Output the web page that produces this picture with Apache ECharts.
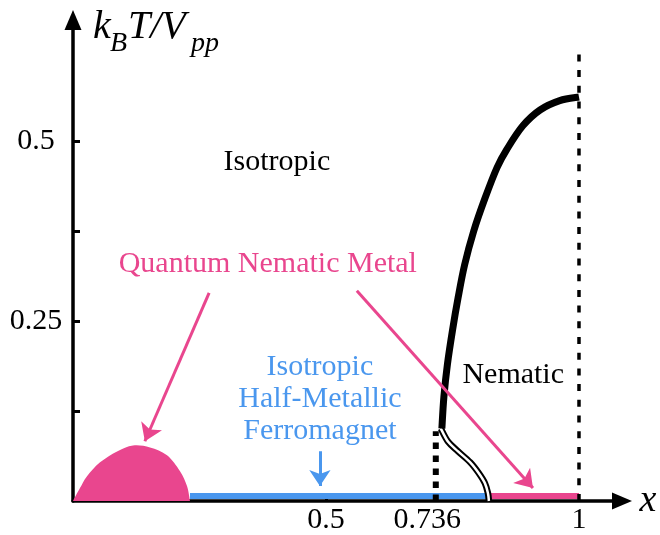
<!DOCTYPE html>
<html>
<head>
<meta charset="utf-8">
<script src="https://cdn.jsdelivr.net/npm/echarts@6/dist/echarts.min.js"></script>
<style>html,body{margin:0;padding:0;background:#fff}#c{width:660px;height:535px}</style>
</head>
<body>
<div id="c"></div>
<script>
// ---- data (data units: x = doping, y = kBT/Vpp) ----
const qnmDome = [[0,0],[0.0138,0.0179],[0.0277,0.0344],[0.0534,0.0537],[0.0870,0.0689],[0.1186,0.0771],[0.1522,0.0744],[0.1858,0.0634],[0.2115,0.0413],[0.2253,0.0207],[0.2312,0]];
const nematicBoundary = [[0.729,0.1006],[0.733,0.1446],[0.740,0.190],[0.750,0.237],[0.761,0.282],[0.774,0.328],[0.792,0.375],[0.814,0.420],[0.838,0.463],[0.858,0.489],[0.889,0.521],[0.923,0.543],[0.962,0.556],[1.0,0.561]];
const doubleBoundary = [[0.727,0.1006],[0.741,0.0826],[0.761,0.0689],[0.785,0.0537],[0.802,0.0386],[0.814,0.0248],[0.820,0.0110],[0.822,0]];
const dottedBoundary = [[0.717,0],[0.717,0.097]];
const dashedX1 = [[1,0],[1,0.624]];
const hmfBand = [[0.2312,0.007],[0.824,0.007]];
const qnmBand = [[0.824,0.007],[1.0,0.007]];
const pinkArrows = [[[0.269,0.289],[0.142,0.083]],[[0.561,0.292],[0.909,0.018]]];
const blueArrows = [[[0.488,0.069],[0.488,0.0207]]];
const xTickValues = [0.5];
const xLabelValues = [0.5, 0.7, 1];
const xLabelTexts = ['0.5', '0.736', '1'];
const yTickValues = [0.125, 0.25, 0.375, 0.5];
const yLabelValues = [0.25, 0.5];
const yLabelTexts = ['0.25', '0.5'];
const blackTexts = [['Isotropic', 0.403, 0.471], ['Nematic', 0.870, 0.175]];
const pinkTexts = [['Quantum Nematic Metal', 0.385, 0.329]];
const blueTexts = [['Isotropic\nHalf-Metallic\nFerromagnet', 0.488, 0.142]];

const PINK = '#E9468E', BLUE = '#4A97EE';
const SERIF = '"Liberation Serif", "DejaVu Serif", serif';

// smooth path (Catmull-Rom as cubic Beziers) through pixel points obtained from the axes
function splinePath(pts, close) {
  let d = 'M' + pts[0][0] + ' ' + pts[0][1];
  for (let i = 0; i < pts.length - 1; i++) {
    const p0 = pts[Math.max(i - 1, 0)], p1 = pts[i], p2 = pts[i + 1], p3 = pts[Math.min(i + 2, pts.length - 1)];
    const c1 = [p1[0] + (p2[0] - p0[0]) / 6, p1[1] + (p2[1] - p0[1]) / 6];
    const c2 = [p2[0] - (p3[0] - p1[0]) / 6, p2[1] - (p3[1] - p1[1]) / 6];
    d += ' C' + c1[0] + ' ' + c1[1] + ' ' + c2[0] + ' ' + c2[1] + ' ' + p2[0] + ' ' + p2[1];
  }
  if (close) d += ' Z';
  return d;
}
function curveSeries(points, style, z, close) {
  return {
    type: 'custom', coordinateSystem: 'cartesian2d', z: z, silent: true,
    data: [points[Math.floor(points.length / 2)]],
    renderItem: (params, api) => ({
      type: 'path',
      shape: {pathData: splinePath(points.map(p => api.coord(p)), close)},
      style: style
    })
  };
}
function textSeries(items, color) {
  return {
    type: 'scatter', symbolSize: 1, itemStyle: {color: 'transparent', opacity: 1}, z: 10, silent: true,
    data: items.map(t => ({value: [t[1], t[2]], name: t[0]})),
    label: {show: true, position: 'inside', formatter: p => p.name, color: color, opacity: 1,
            textBorderWidth: 0,
            fontFamily: SERIF, fontSize: 30, lineHeight: 32, align: 'center', verticalAlign: 'middle'}
  };
}
function lineSeries(data, style, z) {
  return {type: 'line', data: data, symbol: 'none', lineStyle: style, z: z, silent: true};
}

const chart = echarts.init(document.getElementById('c'), null, {renderer: 'canvas'});
chart.setOption({
  animation: false,
  grid: {left: 73, right: 38, top: 20, bottom: 30},
  xAxis: {
    type: 'value', min: 0, max: 1.085, splitLine: {show: false},
    axisLine: {lineStyle: {color: '#000', width: 3.5}, symbol: ['none', 'triangle'], symbolSize: [17, 20]},
    axisTick: {inside: true, length: 8, lineStyle: {width: 3, color: '#000'}, customValues: xTickValues},
    axisLabel: {customValues: xLabelValues, formatter: v => xLabelTexts[xLabelValues.indexOf(v)],
                color: '#000', fontFamily: SERIF, fontSize: 30, margin: 19, verticalAlign: 'middle'}
  },
  yAxis: {
    type: 'value', min: 0, max: 0.668, splitLine: {show: false},
    axisLine: {lineStyle: {color: '#000', width: 3.5}, symbol: ['none', 'triangle'], symbolSize: [17, 20]},
    axisTick: {inside: true, length: 7, lineStyle: {width: 3, color: '#000'}, customValues: yTickValues},
    axisLabel: {customValues: yLabelValues, formatter: v => yLabelTexts[yLabelValues.indexOf(v)],
                color: '#000', fontFamily: SERIF, fontSize: 30, margin: 37, align: 'center'}
  },
  series: [
    curveSeries(qnmDome, {fill: PINK, stroke: 'none'}, 3, true),
    lineSeries(hmfBand, {width: 6, color: BLUE, cap: 'butt'}, 3),
    lineSeries(qnmBand, {width: 6, color: PINK, cap: 'butt'}, 3),
    lineSeries(dottedBoundary, {width: 6, color: '#000', type: [6.5, 6.5]}, 4),
    lineSeries(dashedX1, {width: 3.5, color: '#000', type: [7, 8.7]}, 4),
    curveSeries(doubleBoundary, {fill: 'none', stroke: '#000', lineWidth: 6.5}, 5, false),
    curveSeries(doubleBoundary, {fill: 'none', stroke: '#fff', lineWidth: 2.5}, 6, false),
    curveSeries(nematicBoundary, {fill: 'none', stroke: '#000', lineWidth: 7}, 7, false),
    {type: 'lines', coordinateSystem: 'cartesian2d', z: 8, silent: true,
     symbol: ['none', 'arrow'], symbolSize: [14, 17],
     lineStyle: {color: PINK, width: 3, opacity: 1},
     data: pinkArrows.map(c => ({coords: c}))},
    {type: 'lines', coordinateSystem: 'cartesian2d', z: 8, silent: true,
     symbol: ['none', 'arrow'], symbolSize: [16, 16],
     lineStyle: {color: BLUE, width: 3, opacity: 1},
     data: blueArrows.map(c => ({coords: c}))},
    textSeries(blackTexts, '#000'),
    textSeries(pinkTexts, PINK),
    textSeries(blueTexts, BLUE)
  ],
  graphic: [
    {type: 'text', x: 93, y: 27.5, silent: true, style: {text: 'k', font: 'italic 40px ' + SERIF, fill: '#000', align: 'left', verticalAlign: 'middle'}},
    {type: 'text', x: 110, y: 43.5, silent: true, style: {text: 'B', font: 'italic 28px ' + SERIF, fill: '#000', align: 'left', verticalAlign: 'middle'}},
    {type: 'text', x: 128, y: 27.5, silent: true, style: {text: 'T/V', font: 'italic 40px ' + SERIF, fill: '#000', align: 'left', verticalAlign: 'middle'}},
    {type: 'text', x: 191, y: 43.5, silent: true, style: {text: 'pp', font: 'italic 28px ' + SERIF, fill: '#000', align: 'left', verticalAlign: 'middle'}},
    {type: 'text', x: 648, y: 501, silent: true, style: {text: 'x', font: 'italic 38px ' + SERIF, fill: '#000', align: 'center', verticalAlign: 'middle'}}
  ]
});
</script>
</body>
</html>
